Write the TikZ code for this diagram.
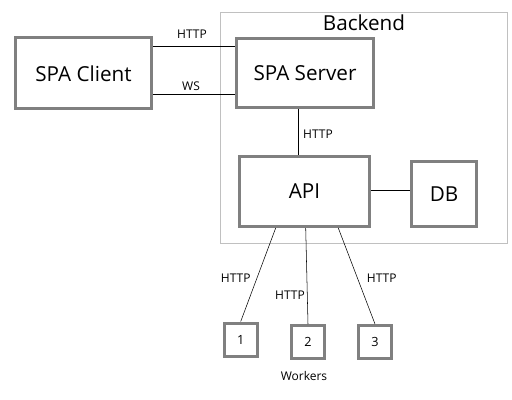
\documentclass[tikz,border=0pt]{standalone}
\usepackage{fontspec}
\setmainfont{Open Sans}
\begin{document}
\begin{tikzpicture}[x=0.75pt,y=0.75pt,yscale=-1,xscale=1,
  box/.style={draw={rgb, 255:red, 128; green, 128; blue, 128 },line width=2.25pt,inner sep=0pt,font=\fontsize{15.5}{18}\selectfont},
  wbox/.style={box,minimum width=24.75pt,minimum height=24.75pt,font=\fontsize{9.5}{11}\selectfont},
  lbl/.style={inner sep=0.75pt,font=\fontsize{9}{11}\selectfont}]
\useasboundingbox (0,0) rectangle (512,400);
\draw [color={rgb, 255:red, 192; green, 192; blue, 192 }  ,line width=0.75]  (220.5,12.5) rectangle (507,243) ;
\node (backend) [inner sep=0pt,font=\fontsize{15.5}{18}\selectfont] at (364,23) {Backend};
\node (client) [box,minimum width=102pt,minimum height=52.9pt] at (83.5,73.25) {SPA Client};
\node (server) [box,minimum width=102.75pt,minimum height=52.1pt] at (305,72.75) {SPA Server};
\node (api) [box,minimum width=97.5pt,minimum height=52.5pt] at (304.5,191.5) {API};
\node (db) [box,minimum width=48.75pt,minimum height=48.75pt] at (444,194) {DB};
\node (w1) [wbox] at (240.7,339.5) {1};
\node (w2) [wbox] at (308,342) {2};
\node (w3) [wbox] at (375,342) {3};
\node (workers) [lbl] at (304,376) {Workers};
\draw    (client.east |- 0,46) -- (server.west |- 0,46) ;
\draw    (client.east |- 0,94) -- (server.west |- 0,94) ;
\draw    (server.south -| 298.5,0) -- (api.north -| 298.5,0) ;
\draw    (api.east |- 0,190.5) -- (db.west |- 0,190.5) ;
\draw    (api.south -| 275.7,0) -- (w1.north) ;
\draw    (api.south -| 305.7,0) -- (w2.north) ;
\draw    (api.south -| 338.3,0) -- (w3.north) ;
\node (lhttp) [lbl] at (192,34) {HTTP};
\node (lws) [lbl] at (191,86) {WS};
\node (lapi) [lbl] at (318,134) {HTTP};
\node (lw1) [lbl] at (235.7,278.3) {HTTP};
\node (lw2) [lbl] at (290,295.7) {HTTP};
\node (lw3) [lbl] at (381.7,278.3) {HTTP};
\end{tikzpicture}
\end{document}
